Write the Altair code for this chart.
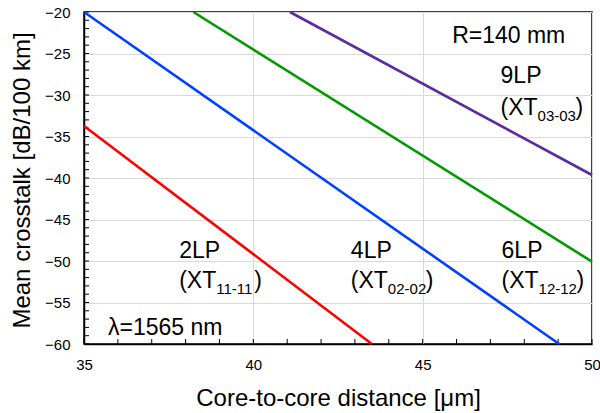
import altair as alt
import pandas as pd

# ---- data ----
series = ["2LP", "4LP", "6LP", "9LP"]
x_start = [35.0, 35.0, 38.23, 41.08]
y_start = [-33.73, -20.0, -20.0, -20.0]
x_end = [43.50, 49.03, 50.0, 50.0]
y_end = [-60.0, -60.0, -50.08, -39.64]
colors = ["#ff0000", "#0040ff", "#009900", "#5b2ca0"]

x_major = [35, 40, 45, 50]
y_major = [-60, -55, -50, -45, -40, -35, -30, -25, -20]
x_minor = list(range(35, 51))
y_minor = list(range(-60, -19))

lab_names = ["2LP", "4LP", "6LP", "9LP"]
lab_sub = ["11-11", "02-02", "12-12", "03-03"]
lab_x = [37.81, 42.88, 47.33, 47.30]
lab_y1 = [-49.60, -49.67, -49.67, -28.59]
lab_y2 = [-53.29, -53.29, -53.29, -32.41]

note_text = ["R=140 mm", "λ=1565 nm"]
note_x = [45.87, 35.71]
note_y = [-23.73, -58.91]

FONT = "Liberation Sans"
BIG = 23
TITLE = 24
SUB = 15

# ---- tables ----
rows = []
for s, xs0, ys0, xs1, ys1 in zip(series, x_start, y_start, x_end, y_end):
    rows.append({"series": s, "x": xs0, "y": ys0, "o": 0})
    rows.append({"series": s, "x": xs1, "y": ys1, "o": 1})
lines_df = pd.DataFrame(rows)
xt_df = pd.DataFrame({"x": x_minor})
yt_df = pd.DataFrame({"y": y_minor})
lab_df = pd.DataFrame({"name": lab_names, "sub": lab_sub, "x": lab_x,
                       "y1": lab_y1, "y2": lab_y2})
lab_df["open"] = "(XT"
lab_df["close"] = ")"
note_df = pd.DataFrame({"t": note_text, "x": note_x, "y": note_y})

xs = alt.Scale(domain=[35, 50], nice=False, zero=False)
ys = alt.Scale(domain=[-60, -20], nice=False, zero=False)

x_axis = alt.Axis(values=x_major, grid=True, gridColor="#d9d9d9", gridWidth=1,
                  ticks=False, domainColor="black", domainWidth=1.5,
                  labelFont=FONT, labelFontSize=15, labelColor="black",
                  labelPadding=25, labelBaseline="alphabetic", labelFlush=False,
                  labelOverlap=False,
                  title="Core-to-core distance [μm]", titleFont=FONT,
                  titleFontSize=TITLE, titleFontWeight="normal", titleColor="black",
                  titleX=254, titleY=61, titleBaseline="alphabetic",
                  titleAlign="center")
y_axis = alt.Axis(values=y_major, grid=True, gridColor="#d9d9d9", gridWidth=1,
                  ticks=False, domainColor="black", domainWidth=1.5,
                  labelFont=FONT, labelFontSize=15, labelColor="black",
                  labelPadding=14, labelFlush=False, labelOverlap=False,
                  title="Mean crosstalk [dB/100 km]", titleFont=FONT,
                  titleFontSize=TITLE, titleFontWeight="normal", titleColor="black",
                  titleAngle=270, titleX=-55, titleY=168,
                  titleBaseline="alphabetic", titleAlign="center")

X = lambda f: alt.X(f"{f}:Q", scale=xs, axis=x_axis)
Y = lambda f: alt.Y(f"{f}:Q", scale=ys, axis=y_axis)

lines = alt.Chart(lines_df).mark_line(strokeWidth=2.6).encode(
    x=X("x"), y=Y("y"),
    color=alt.Color("series:N", scale=alt.Scale(domain=series, range=colors),
                    legend=None),
    order="o:Q",
)

xticks = alt.Chart(xt_df).mark_rule(color="black", strokeWidth=1).encode(
    x=X("x"), y=alt.value(332), y2=alt.value(327),
)
yticks = alt.Chart(yt_df).mark_rule(color="black", strokeWidth=1).encode(
    y=Y("y"), x=alt.value(0), x2=alt.value(5),
)

def txt(df, ycol, textcol, size=BIG, dx=0, dy=0):
    return alt.Chart(df).mark_text(font=FONT, fontSize=size, color="black",
                                   align="left", baseline="alphabetic",
                                   dx=dx, dy=dy).encode(
        x=X("x"), y=Y(ycol), text=f"{textcol}:N",
    )

t_name = txt(lab_df, "y1", "name")
t_open = txt(lab_df, "y2", "open")
t_sub = txt(lab_df, "y2", "sub", size=SUB, dx=37, dy=6)
t_close = txt(lab_df, "y2", "close", dx=75)
t_note = txt(note_df, "y", "t")

chart = alt.layer(yticks, xticks, lines, t_name, t_open, t_sub, t_close, t_note).properties(
    width=508, height=332,
    autosize=alt.AutoSizeParams(type="none"),
    padding={"left": 84, "top": 12, "right": 8, "bottom": 69},
    background="white",
).configure_view(stroke="black", strokeWidth=1.5)

chart.save("out.html", embed_options={"renderer": "svg", "actions": False})
